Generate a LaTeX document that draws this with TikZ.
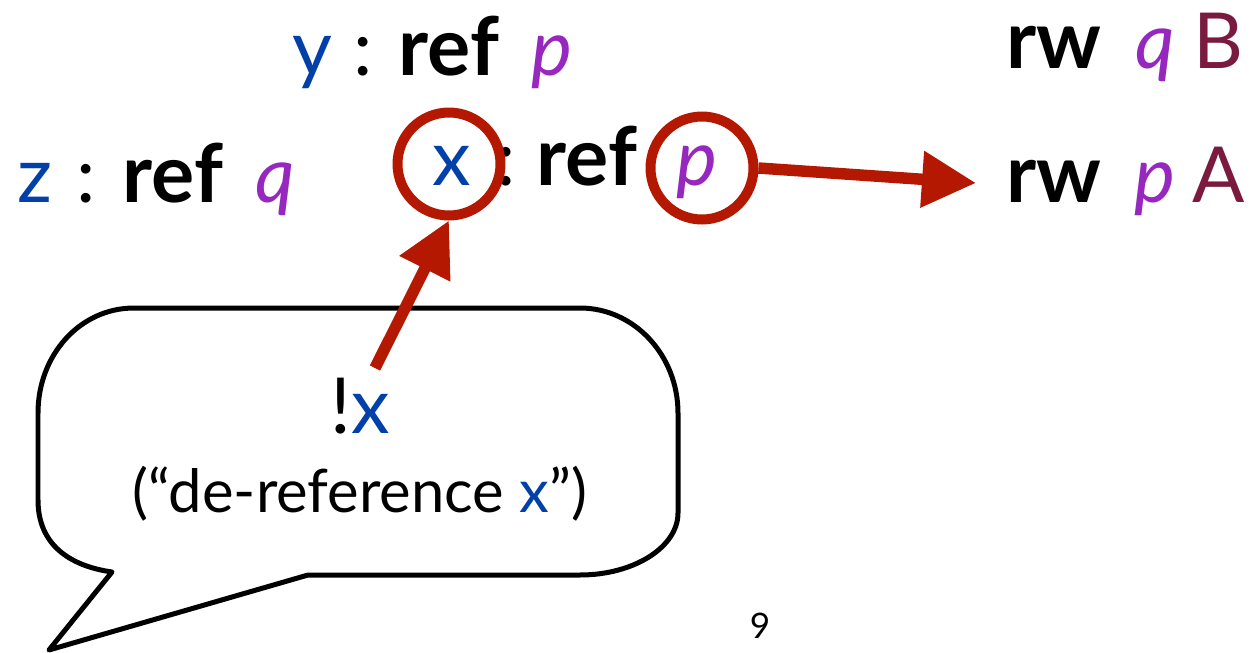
\documentclass[tikz,border=0pt]{standalone}
\usepackage{fontspec}
\setmainfont{Lato}
\usetikzlibrary{arrows.meta}
\definecolor{varblue}{RGB}{0,64,168}
\definecolor{regpurple}{RGB}{150,40,190}
\definecolor{capmaroon}{RGB}{122,26,62}
\definecolor{hlred}{RGB}{180,24,0}

\begin{document}
\begin{tikzpicture}[x=0.02cm,y=-0.02cm,
      word/.style={anchor=base,inner sep=0pt,font=\fontsize{44}{48}\selectfont},
      kw/.style={word,font=\fontsize{46}{48}\selectfont\bfseries},
      reg/.style={word,regpurple,font=\fontsize{44}{48}\selectfont\itshape},
      ring/.style={circle,draw=hlred,line width=2mm,minimum size=20.6mm,inner sep=0pt},
      arr/.style={hlred,line width=2.3mm,-{Triangle[length=10.8mm,width=10.8mm]}},
      bubble/.style={draw,line width=1mm,line join=round}
    ]
      \useasboundingbox (0,0) rectangle (1252,653);

      % declarations
      \node[word,varblue] (yvar) at (312,75) {y};
      \node[word] (ycolon) at (363,75) {:};
      \node[kw] (yref) at (449,75) {ref};
      \node[reg] (yreg) at (552,75) {p};

      \node[word,varblue] (zvar) at (35,202) {z};
      \node[word] (zcolon) at (86,202) {:};
      \node[kw] (zref) at (173,202) {ref};
      \node[reg] (zreg) at (275,202) {q};

      \node[word,varblue] (xvar) at (452,185) {x};
      \node[word] (xcolon) at (506,185) {:};
      \node[kw] (xref) at (587,185) {ref};
      \node[reg] (xreg) at (697,185) {p};

      % capabilities
      \node[kw] (rwq) at (1054,68) {rw};
      \node[reg] (rwqreg) at (1155,68) {q};
      \node[word,capmaroon] (capB) at (1218,68) {B};

      \node[kw] (rwp) at (1054,202) {rw};
      \node[reg] (rwpreg) at (1155,202) {p};
      \node[word,capmaroon] (capA) at (1219,202) {A};

      % highlights
      \node[ring] (xring) at (449,164) {};
      \node[ring] (pring) at (702,168) {};
      \coordinate (ptip) at (976,183);
      \draw[arr] (pring.east) -- (ptip);

      % speech bubble
      \draw[bubble] (49,650) -- (308,575) -- (580,575)
        .. controls (634,575) and (678,547) .. (678,513) -- (678,413)
        .. controls (678,355) and (634,308) .. (580,308) -- (134,308)
        .. controls (80,308) and (38,355) .. (38,413) -- (38,500)
        .. controls (38,545) and (70,566) .. (112,572) -- cycle;
      \node[word] (bang) at (360,433) {!\textcolor{varblue}{x}};
      \node[word,font=\fontsize{34}{38}\selectfont] (gloss) at (360,512)
        {(“de-reference \textcolor{varblue}{x}”)};
      \coordinate (xtail) at (375,368);
      \draw[arr] (xtail) -- (xring.south);

      \node[word,font=\fontsize{20}{24}\selectfont] (pagenum) at (760,638) {9};
    \end{tikzpicture}
\end{document}
